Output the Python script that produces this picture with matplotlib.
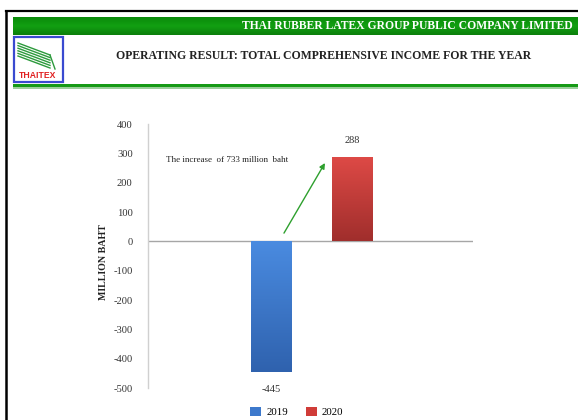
import numpy as np
import matplotlib
matplotlib.use("Agg")
import matplotlib.pyplot as plt
from matplotlib.patches import Rectangle, Patch
from matplotlib.lines import Line2D
from matplotlib.colors import LinearSegmentedColormap

# ---- data ----
series = ["2019", "2020"]
values = [-445, 288]
bar_labels = ["-445", "288"]
yticks = [400, 300, 200, 100, 0, -100, -200, -300, -400, -500]
header = "THAI RUBBER LATEX GROUP PUBLIC COMPANY LIMITED"
title = "OPERATING RESULT: TOTAL COMPREHENSIVE INCOME FOR THE YEAR"
ylabel = "MILLION BAHT"
note = "The increase  of 733 million  baht"

W, H = 578, 420
SERIF = ["Liberation Serif", "DejaVu Serif"]
plt.rcParams["font.family"] = SERIF

fig = plt.figure(figsize=(W / 100, H / 100), dpi=100)
fig.patch.set_facecolor("white")

def fx(px):
    return px / W

def fy(py):
    return 1 - py / H

def frect(x0, y0, x1, y1, **kw):
    fig.add_artist(Rectangle((fx(x0), fy(y1)), fx(x1) - fx(x0), fy(y0) - fy(y1),
                             transform=fig.transFigure, **kw))

# outer black frame (top + left)
fig.add_artist(Line2D([fx(6), fx(578)], [fy(11), fy(11)], color="black", lw=1.6,
                      transform=fig.transFigure))
fig.add_artist(Line2D([fx(6), fx(6)], [fy(11), fy(420)], color="black", lw=1.8,
                      transform=fig.transFigure))

# green header band with gradient
grad_ax = fig.add_axes([fx(13), fy(35), fx(578) - fx(13), fy(17) - fy(35)])
g = np.linspace(0, 1, 64).reshape(-1, 1)
gcm = LinearSegmentedColormap.from_list("g", ["#0a8a0a", "#12a012", "#0b7f0b"])
grad_ax.imshow(g, aspect="auto", cmap=gcm, extent=[0, 1, 0, 1])
grad_ax.set_axis_off()
fig.text(fx(573), fy(26), header, color="white", fontsize=8.4, fontweight="bold",
         ha="right", va="center", family=SERIF)

# green thin line below title
frect(13, 84, 578, 87, color="#169a16", lw=0)
frect(13, 87, 578, 88.5, color="#9ccf9c", lw=0)

# logo
frect(13.5, 37, 62.5, 82, facecolor="white", edgecolor="#3a4ad0", lw=1.6)
for i in range(6):
    y0 = 43 + i * 2.6
    fig.add_artist(Line2D([fx(18), fx(50)], [fy(y0), fy(y0 + 12)], color="#2c9a3c",
                          lw=1.0, transform=fig.transFigure))
fig.add_artist(Line2D([fx(50), fx(55)], [fy(55), fy(69)], color="#2c9a3c",
                      lw=1.0, transform=fig.transFigure))
fig.text(fx(38), fy(75), "THAITEX", color="#e02020", fontsize=6.2, fontweight="bold",
         ha="center", va="center", family=["Liberation Sans", "DejaVu Sans"])

# title
fig.text(fx(116), fy(56), title, color="#222222", fontsize=8.5, fontweight="bold",
         ha="left", va="center", family=SERIF)

# ---- chart ----
ax = fig.add_axes([fx(148), fy(388), fx(473) - fx(148), fy(124) - fy(388)])
xpos = np.arange(len(series))
bar_w = 0.506
colors_top = ["#4a8be0", "#de4a46"]
colors_bot = ["#2f62ae", "#a02e2c"]
colors_leg = ["#3d79cc", "#d03c38"]
bars = ax.bar(xpos, values, width=bar_w, color=colors_leg, zorder=2)
for b, ct, cb in zip(bars, colors_top, colors_bot):
    x0, w = b.get_x(), b.get_width()
    y0, h = b.get_y(), b.get_height()
    cm = LinearSegmentedColormap.from_list("c", [cb, ct])
    lo, hi = min(y0, y0 + h), max(y0, y0 + h)
    grad = np.linspace(0, 1, 128).reshape(-1, 1)
    im = ax.imshow(grad, aspect="auto", cmap=cm, origin="lower",
                   extent=[x0, x0 + w, lo, hi], zorder=3)
    im.set_clip_path(b)
    b.set_edgecolor("none")

ax.set_xlim(-1.525, 2.488)
ax.set_ylim(-500, 400)
ax.axhline(0, color="#a6a6a6", lw=1.0, zorder=1)

for b, v, lab in zip(bars, values, bar_labels):
    cx = b.get_x() + b.get_width() / 2
    off = 12 if v > 0 else -13
    ax.annotate(lab, (cx, v), xytext=(0, off), textcoords="offset points",
                ha="center", va="center", fontsize=7.5, color="#333333")

ax.annotate("", xy=(0.66, 267), xytext=(0.154, 28),
            arrowprops=dict(arrowstyle="-|>", color="#2ea02e", lw=1.0,
                            mutation_scale=8, shrinkA=0, shrinkB=0), zorder=4)
ax.text(-1.303, 277, note, fontsize=6.5, color="#222222", ha="left", va="center")

for s in ["top", "right", "bottom"]:
    ax.spines[s].set_visible(False)
ax.spines["left"].set_color("#d0d0d0")
ax.spines["left"].set_linewidth(1.0)
ax.set_xticks([])
ax.set_yticks(yticks)
ax.set_yticklabels([str(t) for t in yticks], fontsize=7.6, color="#333333")
ax.tick_params(axis="y", length=0, pad=11)

fig.text(fx(104), fy(262), ylabel, rotation=90, fontsize=7.2, fontweight="bold",
         ha="center", va="center", color="#222222", family=SERIF)

handles = [Patch(facecolor=c, edgecolor="none") for c in colors_leg]
fig.legend(handles, series, loc="center", bbox_to_anchor=(fx(297), fy(412)), ncol=2,
           frameon=False, fontsize=7.8, handlelength=1.0, handleheight=1.0,
           handletextpad=0.5, columnspacing=1.6, borderpad=0.1)

fig.savefig("out.png", dpi=100)
